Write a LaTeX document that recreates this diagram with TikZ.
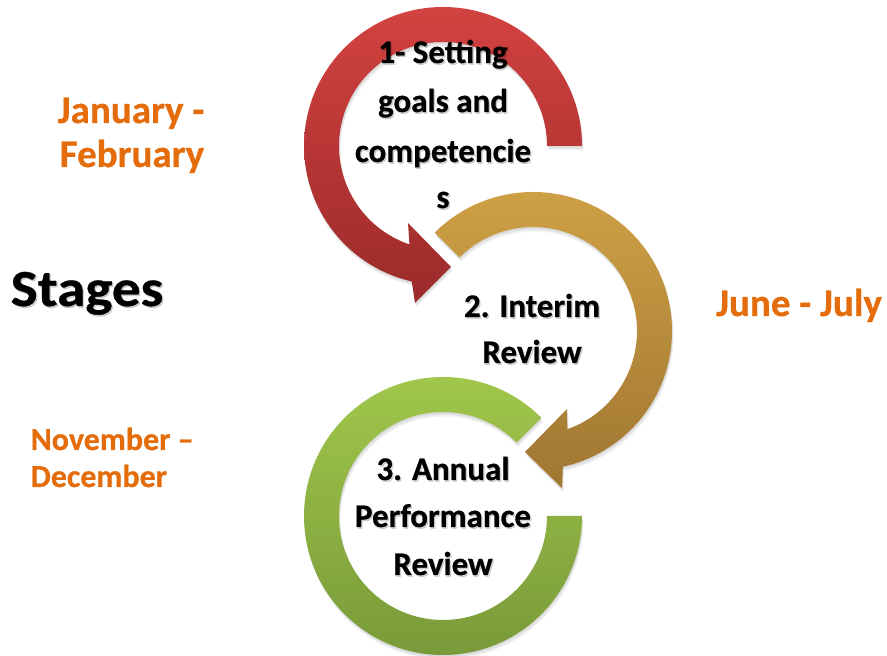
\documentclass[tikz,border=0pt]{standalone}
\usepackage{fontspec}
\setmainfont{Carlito}[BoldFeatures={FakeBold=0.6}]

\definecolor{redtop}{RGB}{210,66,64}
\definecolor{redbot}{RGB}{155,42,42}
\definecolor{goldtop}{RGB}{208,162,70}
\definecolor{goldbot}{RGB}{160,118,50}
\definecolor{greentop}{RGB}{162,201,76}
\definecolor{greenbot}{RGB}{118,152,56}
\definecolor{monthorange}{RGB}{228,108,10}

% Ring arrows, each as one closed outline (outer arc, head, inner arc)
\newcommand{\redarrow}[1]{%
  \path[#1] (582,510) arc[start angle=0, end angle=257, radius=139pt]
    -- (415,353) -- (451,389) -- (408,433) -- (409.48,411.55)
    arc[start angle=251.2, end angle=0, radius=104pt] -- cycle;}
\newcommand{\goldarrow}[1]{%
  \path[#1] (434.71,423.29) arc[start angle=135, end angle=-77.6, radius=139pt]
    -- (562,168) -- (525,204) -- (567,247) -- (567.37,226.84)
    arc[start angle=-70.7, end angle=135, radius=104pt] -- cycle;}
\newcommand{\greenring}[1]{%
  \path[#1] (541.29,238.29) arc[start angle=45, end angle=360, radius=139pt]
    -- (547,140) arc[start angle=360, end angle=45, radius=104pt] -- cycle;}

% Soft drop shadow built from a few faint offset copies
\newcommand{\softshadow}[1]{%
  #1{fill=black, opacity=0.05, shift={(0.5,-1.5)}}
  #1{fill=black, opacity=0.05, shift={(1,-3)}}
  #1{fill=black, opacity=0.05, shift={(1.5,-4.5)}}}

\tikzset{
  steplabel/.style={font=\bfseries\fontsize{33}{39}\selectfont, text=black, anchor=base, inner sep=0pt},
  monthlabel/.style={font=\bfseries\fontsize{39}{46}\selectfont, text=monthorange, anchor=base, inner sep=0pt},
  monthsmall/.style={font=\bfseries\fontsize{32}{38}\selectfont, text=monthorange, anchor=base west, inner sep=0pt},
  titlelabel/.style={font=\bfseries\fontsize{52}{60}\selectfont, text=black, anchor=base west, inner sep=0pt, xscale=1.1, transform shape},
  textshadow/.style={text=black, text opacity=0.18}
}

% Black label with a faint drop shadow under it
\newcommand{\shadedlabel}[4]{%
  \node[#1, textshadow] (#2sh) at ($(#3)+(1.3,-1.6)$) {#4};
  \node[#1] (#2) at (#3) {#4};}

\usetikzlibrary{calc}

\begin{document}
\begin{tikzpicture}[x=1pt, y=1pt]
  \fill[white] (0,0) rectangle (887,656);
  \useasboundingbox (0,0) rectangle (887,656);

  % shadows of the rings
  \softshadow{\redarrow}
  \softshadow{\goldarrow}
  \softshadow{\greenring}

  % the rings
  \redarrow{top color=redtop, bottom color=redbot}
  \goldarrow{top color=goldtop, bottom color=goldbot}
  \greenring{top color=greentop, bottom color=greenbot}

  % stage 1
  \shadedlabel{steplabel}{s1a}{443,593}{1- Setting}
  \shadedlabel{steplabel}{s1b}{443,544}{goals and}
  \shadedlabel{steplabel}{s1c}{443,494}{competencie}
  \shadedlabel{steplabel}{s1d}{443,448}{s}
  % stage 2
  \shadedlabel{steplabel}{s2a}{532,339}{2. Interim}
  \shadedlabel{steplabel}{s2b}{532,293}{Review}
  % stage 3
  \shadedlabel{steplabel}{s3a}{443,176}{3. Annual}
  \shadedlabel{steplabel}{s3b}{443,129}{Performance}
  \shadedlabel{steplabel}{s3c}{443,81}{Review}

  % title
  \shadedlabel{titlelabel}{stages}{10.5,350}{Stages}

  % periods
  \node[monthlabel] (jan) at (131,533) {January -};
  \node[monthlabel] (feb) at (132,489) {February};
  \node[monthlabel] (jun) at (799,340) {June - July};
  \node[monthsmall] (nov) at (30.5,206) {November –};
  \node[monthsmall] (dec) at (30.5,169) {December};
\end{tikzpicture}
\end{document}
